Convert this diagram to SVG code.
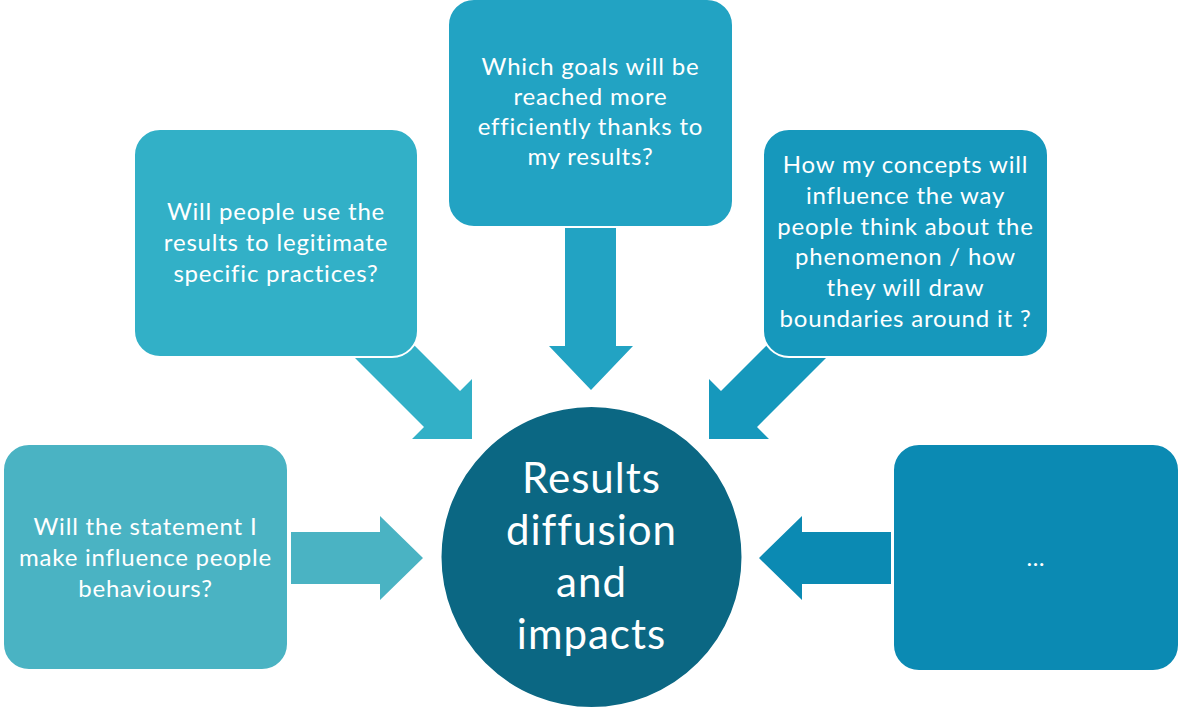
<svg xmlns="http://www.w3.org/2000/svg" width="1180" height="709" viewBox="0 0 1180 709">
  <style>
    .box { stroke: #ffffff; stroke-width: 2; }
    .t { font-family: Lato, "Open Sans", "Liberation Sans", sans-serif; font-size: 24px; letter-spacing: 0.8px; fill: #ffffff; text-anchor: middle; }
    .big { font-family: Lato, "Open Sans", "Liberation Sans", sans-serif; font-size: 42px; letter-spacing: 1px; fill: #ffffff; text-anchor: middle; }
  </style>
  <rect width="1180" height="709" fill="#ffffff"/>
  <g id="connectors">
    <polygon points="291,532 380,532 380,516 423,558 380,600 380,584 291,584" fill="#4AB3C3"/>
    <polygon points="345,348 405,336 460,391 472,379 472,439 412,439 424,427" fill="#32B0C7"/>
    <polygon points="565,220 616,220 616,346 633,346 591,390 549,346 565,346" fill="#22A3C3"/>
    <polygon points="836,348 776,336 721,391 709,379 709,439 769,439 757,427" fill="#1698BC"/>
    <polygon points="891,532 802,532 802,516 759,558 802,600 802,584 891,584" fill="#0B8AB3"/>
  </g>
  <g id="node-left">
    <rect class="box" x="3" y="444" width="285" height="226" rx="26" fill="#4AB3C3"/>
    <text class="t" x="145.5" y="535">Will the statement I</text>
    <text class="t" x="145.5" y="566">make influence people</text>
    <text class="t" x="145.5" y="597">behaviours?</text>
  </g>
  <g id="node-topleft">
    <rect class="box" x="134" y="129" width="284" height="228" rx="26" fill="#32B0C7"/>
    <text class="t" x="276" y="220">Will people use the</text>
    <text class="t" x="276" y="251">results to legitimate</text>
    <text class="t" x="276" y="282">specific practices?</text>
  </g>
  <g id="node-top">
    <rect class="box" x="448" y="-1" width="285" height="228" rx="26" fill="#22A3C3"/>
    <text class="t" x="590.5" y="75">Which goals will be</text>
    <text class="t" x="590.5" y="105">reached more</text>
    <text class="t" x="590.5" y="135">efficiently thanks to</text>
    <text class="t" x="590.5" y="165">my results?</text>
  </g>
  <g id="node-topright">
    <rect class="box" x="763" y="129" width="285" height="228" rx="26" fill="#1698BC"/>
    <text class="t" x="905.5" y="173">How my concepts will</text>
    <text class="t" x="905.5" y="204">influence the way</text>
    <text class="t" x="905.5" y="235">people think about the</text>
    <text class="t" x="905.5" y="265">phenomenon / how</text>
    <text class="t" x="905.5" y="296">they will draw</text>
    <text class="t" x="905.5" y="327">boundaries around it ?</text>
  </g>
  <g id="node-right">
    <rect class="box" x="893" y="444" width="286" height="227" rx="26" fill="#0B8AB3"/>
    <text class="t" x="1036" y="566">…</text>
  </g>
  <g id="node-center">
    <circle cx="591.5" cy="557" r="151" fill="#0B6783" stroke="#ffffff" stroke-width="2"/>
    <text class="big" x="591.5" y="493">Results</text>
    <text class="big" x="591.5" y="545">diffusion</text>
    <text class="big" x="591.5" y="597">and</text>
    <text class="big" x="591.5" y="649">impacts</text>
  </g>
</svg>
